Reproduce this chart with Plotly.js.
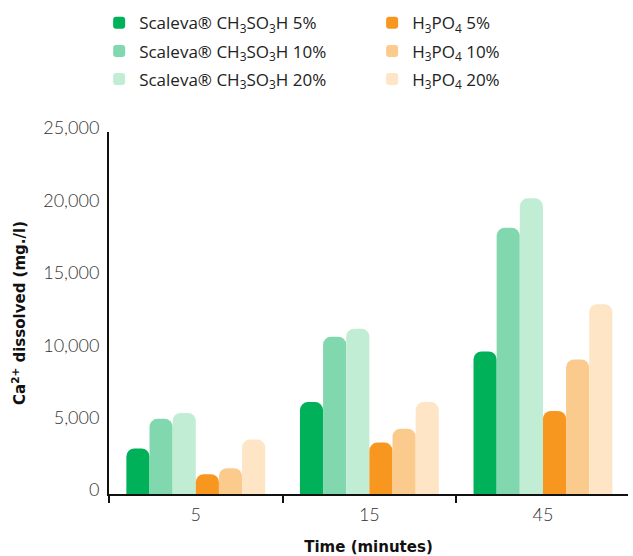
<!DOCTYPE html>
<html>
<head>
<meta charset="utf-8">
<script src="https://cdn.plot.ly/plotly-3.0.1.min.js"></script>
<style>html,body{margin:0;padding:0;background:#fff;}#chart{width:633px;height:556px;}</style>
</head>
<body>
<div id="chart"></div>
<script>
const categories = ['5', '15', '45'];
const seriesNames = [
  'Scaleva® CH<sub>3</sub>SO<sub>3</sub>H 5%',
  'Scaleva® CH<sub>3</sub>SO<sub>3</sub>H 10%',
  'Scaleva® CH<sub>3</sub>SO<sub>3</sub>H 20%',
  'H<sub>3</sub>PO<sub>4</sub> 5%',
  'H<sub>3</sub>PO<sub>4</sub> 10%',
  'H<sub>3</sub>PO<sub>4</sub> 20%'
];
const msa5  = [3140, 6350, 9840];
const msa10 = [5190, 10860, 18380];
const msa20 = [5600, 11410, 20420];
const h3po4_5  = [1370, 3550, 5740];
const h3po4_10 = [1780, 4510, 9290];
const h3po4_20 = [3760, 6350, 13110];
const yTicks = [0, 5000, 10000, 15000, 20000, 25000];
const yTickLabels = ['0', '5,000', '10,000', '15,000', '20,000', '25,000'];

const seriesValues = [msa5, msa10, msa20, h3po4_5, h3po4_10, h3po4_20];
const colors = ['#00B15A', '#82D8AE', '#C1EDD5', '#F7971F', '#FBCA8D', '#FDE5C5'];
const legends = ['legend', 'legend', 'legend', 'legend2', 'legend2', 'legend2'];

const traces = seriesValues.map((vals, i) => ({
  type: 'bar',
  x: categories,
  y: vals,
  name: seriesNames[i],
  legend: legends[i],
  legendgroup: 'g' + i,
  marker: {color: colors[i], cornerradius: 8, line: {width: 0}},
  hoverinfo: 'skip'
}));

const legendFont = {family: '"Open Sans", Lato, sans-serif', size: 17, color: '#222'};
const titleFont = {family: '"DejaVu Sans", sans-serif', size: 15, color: '#111', weight: 'bold'};
const tickFont = {family: 'Lato, sans-serif', size: 18, color: '#333', weight: 300};
const layout = {
  width: 633, height: 556,
  margin: {l: 109, r: 5, t: 128, b: 62},
  paper_bgcolor: '#fff', plot_bgcolor: '#fff',
  barmode: 'group', bargap: 0.2, bargroupgap: 0, barcornerradius: 8,
  showlegend: true,
  legend: {x: -0.019, y: 1.35, xanchor: 'left', yanchor: 'top', orientation: 'v',
           font: legendFont, tracegroupgap: 3, bgcolor: 'rgba(0,0,0,0)'},
  legend2: {x: 0.507, y: 1.35, xanchor: 'left', yanchor: 'top', orientation: 'v',
           font: legendFont, tracegroupgap: 3, bgcolor: 'rgba(0,0,0,0)'},
  xaxis: {
    type: 'category', range: [-0.5, 2.49],
    showline: true, linecolor: '#111', linewidth: 2,
    showgrid: false, zeroline: false,
    ticks: 'outside', tickson: 'boundaries', ticklen: 7, tickwidth: 2, tickcolor: '#111',
    ticklabelstandoff: 3,
    tickfont: tickFont,
    title: {text: 'Time (minutes)', standoff: 30, font: titleFont}
  },
  yaxis: {
    range: [0, 25000],
    tickvals: yTicks, ticktext: yTickLabels,
    showline: true, linecolor: '#111', linewidth: 2,
    showgrid: false, zeroline: false, ticks: '',
    ticklabelshift: -4, ticklabelstandoff: 4,
    tickfont: tickFont,
    title: {text: 'Ca<sup>2+</sup> dissolved (mg./l)', standoff: 14, font: titleFont}
  }
};

Plotly.newPlot('chart', traces, layout, {displayModeBar: false, staticPlot: true});
</script>
</body>
</html>
